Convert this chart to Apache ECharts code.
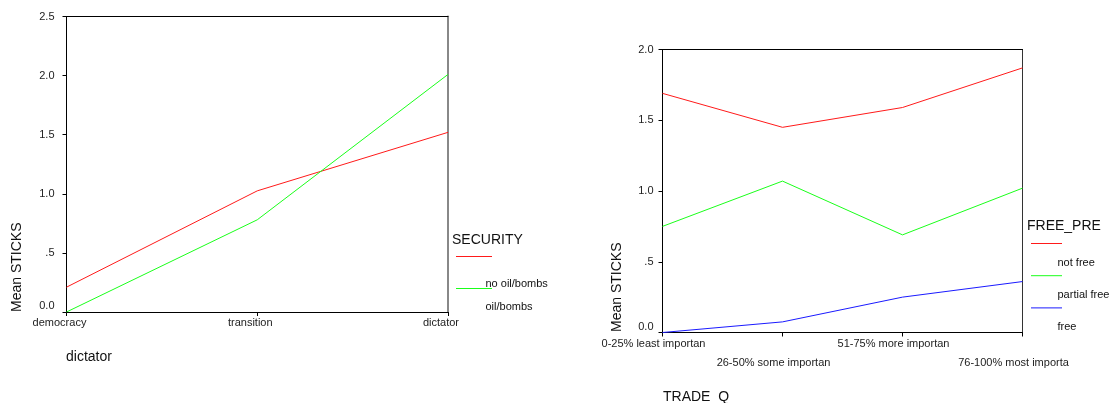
<!DOCTYPE html>
<html>
<head>
<meta charset="utf-8">
<script src="https://cdn.jsdelivr.net/npm/echarts@6/dist/echarts.min.js"></script>
<style>
html,body{margin:0;padding:0;background:#fff;}
#c{width:1109px;height:403px;}
</style>
</head>
<body>
<div id="c"></div>
<script>
// ---- data ----
const leftCategories = ['democracy', 'transition', 'dictator'];
const leftSeriesNames = ['no oil/bombs', 'oil/bombs'];
const leftNoOil = [0.21, 1.025, 1.52];
const leftOil = [0.0, 0.78, 2.01];
const leftYTicks = [0, 0.5, 1.0, 1.5, 2.0, 2.5];

const rightCategories = ['0-25% least importan', '26-50% some importan', '51-75% more importan', '76-100% most importa'];
const rightSeriesNames = ['not free', 'partial free', 'free'];
const rightNotFree = [1.69, 1.45, 1.59, 1.87];
const rightPartialFree = [0.75, 1.07, 0.69, 1.02];
const rightFree = [0.0, 0.075, 0.25, 0.36];
const rightYTicks = [0, 0.5, 1.0, 1.5, 2.0];

const leftTitle = 'SECURITY';
const rightTitle = 'FREE_PRE';
const yName = 'Mean STICKS';
const leftXName = 'dictator';
const rightXName = 'TRADE_Q';

// ---- styling ----
const FONT = 'Liberation Sans, Arial, sans-serif';
const colors = ['#ff1a1a', '#1aff1a', '#1a1aff'];

function yFmt(v) {
  if (v === 0) return '{m|0.0}';
  if (v === 0.5) return '.5';
  return v.toFixed(1);
}

const chart = echarts.init(document.getElementById('c'), null, {renderer: 'canvas'});

const lineSeries = (name, data, color, xi, yi) => ({
  type: 'line', name, data, xAxisIndex: xi, yAxisIndex: yi,
  showSymbol: false, symbol: 'none', silent: true, animation: false,
  lineStyle: {color, width: 1}
});

const yLabelBase = (margin) => ({
  fontFamily: FONT, fontSize: 11, color: '#222', margin,
  formatter: yFmt,
  rich: {m: {fontFamily: FONT, fontSize: 11, color: '#222', padding: [0, 0, 12, 0]}}
});

// legend graphic
const graphics = [];
function addText(text, x, y, size, extra) {
  graphics.push(Object.assign({
    type: 'text', x, y, silent: true,
    style: {text, fontFamily: FONT, fontSize: size, fill: '#111', align: 'left', verticalAlign: 'middle'}
  }, extra || {}));
}
function addLine(x1, y, x2, color) {
  graphics.push({type: 'line', silent: true, shape: {x1, y1: y, x2, y2: y}, style: {stroke: color, lineWidth: 1}});
}
// left legend
addText(leftTitle, 452, 240, 14);
const leftLineY = [256.5, 288.5];
const leftTextY = [284, 306.5];
leftSeriesNames.forEach((n, i) => {
  addLine(456, leftLineY[i], 492, colors[i]);
  addText(n, 485.5, leftTextY[i], 11);
});
// right legend
addText(rightTitle, 1027, 226.5, 14);
rightSeriesNames.forEach((n, i) => {
  const ly = 243.5 + i * 32.2;
  addLine(1031, ly, 1062, colors[i]);
  addText(n, 1057.5, ly + 19, 11);
});
// axis titles
addText(yName, 17, 312, 14, {rotation: Math.PI / 2});
addText(yName, 617, 332, 14, {rotation: Math.PI / 2});
addText(leftXName, 66, 357, 14);
addText(rightXName, 663, 397, 14);

const option = {
  animation: false,
  backgroundColor: '#fff',
  grid: [
    {left: 66.5, right: 661, top: 16.5, bottom: 91},
    {left: 662.5, right: 86.5, top: 49.5, bottom: 70.5}
  ],
  xAxis: [
    {
      type: 'category', gridIndex: 0, data: leftCategories, boundaryGap: false,
      axisLine: {onZero: false, lineStyle: {color: '#000', width: 1}},
      axisTick: {show: true, inside: false, length: 4, lineStyle: {color: '#000'}},
      axisLabel: {fontFamily: FONT, fontSize: 11, color: '#222', margin: 4, lineHeight: 13,
                  interval: 0, align: 'center', padding: [0, 14, 0, 0]},
      splitLine: {show: false}
    },
    {
      type: 'category', gridIndex: 0, position: 'top', data: leftCategories, boundaryGap: false,
      axisLine: {onZero: false, lineStyle: {color: '#000', width: 1}},
      axisTick: {show: false}, axisLabel: {show: false}, splitLine: {show: false}
    },
    {
      type: 'category', gridIndex: 1, data: rightCategories, boundaryGap: false,
      axisLine: {onZero: false, lineStyle: {color: '#000', width: 1}},
      axisTick: {show: true, inside: false, length: 4, lineStyle: {color: '#000'}},
      axisLabel: {fontFamily: FONT, fontSize: 11, color: '#222', margin: 2, lineHeight: 19,
                  interval: 0, align: 'center', padding: [0, 18, 0, 0],
                  formatter: (v, i) => (i % 2 ? '\n' + v : v)},
      splitLine: {show: false}
    },
    {
      type: 'category', gridIndex: 1, position: 'top', data: rightCategories, boundaryGap: false,
      axisLine: {onZero: false, lineStyle: {color: '#000', width: 1}},
      axisTick: {show: false}, axisLabel: {show: false}, splitLine: {show: false}
    }
  ],
  yAxis: [
    {
      type: 'value', gridIndex: 0, min: leftYTicks[0], max: leftYTicks[leftYTicks.length - 1], interval: 0.5,
      axisLine: {show: true, onZero: false, lineStyle: {color: '#000', width: 1}},
      axisTick: {show: true, inside: false, length: 4, lineStyle: {color: '#000'}},
      axisLabel: yLabelBase(12),
      splitLine: {show: false}
    },
    {
      type: 'value', gridIndex: 0, position: 'right', min: leftYTicks[0], max: leftYTicks[leftYTicks.length - 1], interval: 0.5,
      axisLine: {show: true, onZero: false, lineStyle: {color: '#888', width: 2}},
      axisTick: {show: false}, axisLabel: {show: false}, splitLine: {show: false}
    },
    {
      type: 'value', gridIndex: 1, min: rightYTicks[0], max: rightYTicks[rightYTicks.length - 1], interval: 0.5,
      axisLine: {show: true, onZero: false, lineStyle: {color: '#000', width: 1}},
      axisTick: {show: true, inside: false, length: 4, lineStyle: {color: '#000'}},
      axisLabel: yLabelBase(9),
      splitLine: {show: false}
    },
    {
      type: 'value', gridIndex: 1, position: 'right', min: rightYTicks[0], max: rightYTicks[rightYTicks.length - 1], interval: 0.5,
      axisLine: {show: true, onZero: false, lineStyle: {color: '#333', width: 1}},
      axisTick: {show: false}, axisLabel: {show: false}, splitLine: {show: false}
    }
  ],
  series: [
    lineSeries(leftSeriesNames[0], leftNoOil, colors[0], 0, 0),
    lineSeries(leftSeriesNames[1], leftOil, colors[1], 0, 0),
    lineSeries(rightSeriesNames[0], rightNotFree, colors[0], 2, 2),
    lineSeries(rightSeriesNames[1], rightPartialFree, colors[1], 2, 2),
    lineSeries(rightSeriesNames[2], rightFree, colors[2], 2, 2)
  ],
  graphic: graphics
};
chart.setOption(option);
</script>
</body>
</html>
